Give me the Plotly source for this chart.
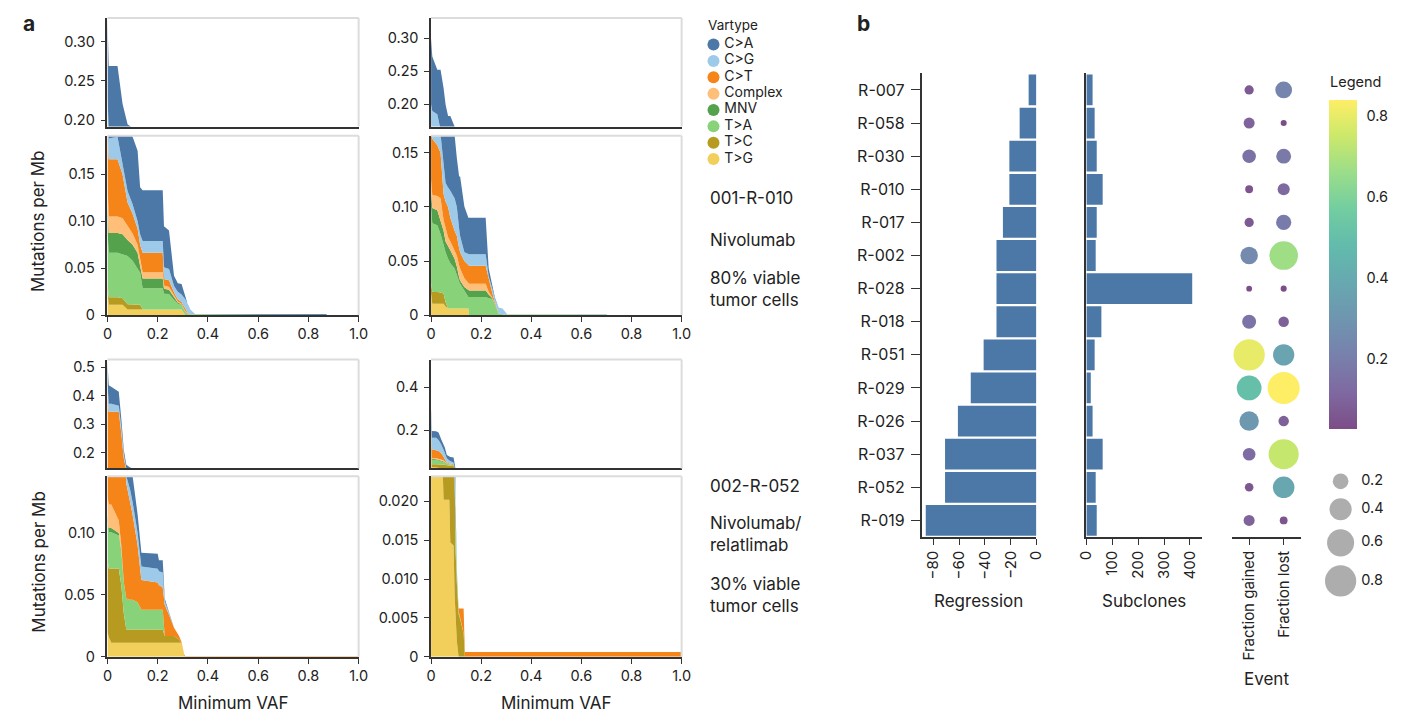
import numpy as np
import plotly.graph_objects as go
import plotly.colors as pc

W, H = 1407, 718
FONT = "Inter, 'Liberation Sans', sans-serif"
INK = "#222222"
AXIS = "#333333"
FRAME = "#dcdcdc"

# ---------------- data: panel a ----------------
VARTYPES = ["C>A", "C>G", "C>T", "Complex", "MNV", "T>A", "T>C", "T>G"]
VAR_COLORS = ["#4c78a8", "#9ecae9", "#f58518", "#ffbf79", "#54a24b", "#88d27a", "#b79a20", "#f2cf5b"]

VAF_TICKS = [0, 0.2, 0.4, 0.6, 0.8, 1.0]
VAF_TICKTEXT = ["0", "0.2", "0.4", "0.6", "0.8", "1.0"]

# stacked upper edge of each vartype layer (mutations per Mb), 001-R-010 left sample
TL_VAF = [0, .005, .04, .06, .08, .10, .12, .13, .14, .22, .225, .245, .265, .28, .295, .31, .32, .33, .35, .87, .875, 1.0]
TL_TG = [.025, .011, .011, .011, .006, .006, .006, .006, .006, .006, .006, .006, .006, .006, .006, 0, 0, 0, 0, 0, 0, 0]
TL_TC = [.035, .019, .019, .018, .0115, .0115, .0115, .011, .006, .006, .006, .006, .006, .006, .006, 0, 0, 0, 0, 0, 0, 0]
TL_TA = [.09, .0665, .0665, .065, .063, .058, .050, .045, .0287, .0287, .0228, .0225, .016, .012, .011, .002, .001, .001, .0008, .0008, 0, 0]
TL_MNV = [.12, .0875, .0875, .086, .080, .075, .066, .054, .039, .039, .028, .027, .019, .0135, .0115, .003, .001, .001, .0008, .0008, 0, 0]
TL_CX = [.14, .105, .105, .103, .095, .087, .075, .060, .0455, .0455, .0315, .030, .021, .0145, .012, .004, .0012, .001, .0008, .0008, 0, 0]
TL_CT = [.20, .166, .166, .150, .120, .108, .092, .075, .0665, .0665, .0385, .037, .024, .017, .014, .007, .002, .001, .0008, .0008, 0, 0]
TL_CG = [.23, .188, .190, .162, .132, .118, .100, .086, .079, .079, .051, .049, .031, .025, .022, .017, .011, .006, .0008, .0008, 0, 0]
TL_CA = [.33, .269, .269, .221, .195, .190, .175, .136, .133, .133, .0945, .090, .042, .034, .033, .018, .011, .006, .0008, .0008, 0, 0]

# 001-R-010 right sample
TR_VAF = [0, .005, .025, .038, .05, .058, .068, .077, .094, .103, .112, .116, .133, .149, .152, .218, .23, .245, .255, .27, .285, .305, .70, .705, 1.0]
TR_TG = [.02, .0106, .0106, .0106, .0106, .008, .006, .006, .006, .006, .006, .006, .006, .006, 0, 0, 0, 0, 0, 0, 0, 0, 0, 0, 0]
TR_TC = [.03, .0213, .0213, .021, .020, .012, .006, .006, .006, .006, .006, .006, .006, .006, 0, 0, 0, 0, 0, 0, 0, 0, 0, 0, 0]
TR_TA = [.10, .085, .083, .075, .065, .058, .052, .048, .043, .036, .031, .029, .022, .0167, .0167, .0167, .0155, .015, .0095, .0015, .0008, .0005, .0005, 0, 0]
TR_MNV = [.115, .099, .097, .088, .078, .068, .063, .060, .052, .045, .035, .032, .026, .0228, .0228, .0228, .019, .0155, .010, .0015, .0008, .0005, .0005, 0, 0]
TR_CX = [.125, .111, .110, .108, .088, .080, .072, .068, .060, .055, .046, .043, .034, .0289, .0289, .0289, .0215, .016, .0105, .0015, .0008, .0005, .0005, 0, 0]
TR_CT = [.17, .163, .157, .150, .112, .105, .100, .090, .078, .073, .062, .058, .050, .0456, .0456, .0456, .033, .020, .012, .0015, .0008, .0005, .0005, 0, 0]
TR_CG = [.20, .19, .185, .167, .14, .122, .118, .115, .108, .100, .080, .073, .058, .0563, .0563, .0563, .036, .024, .015, .007, .006, .0005, .0005, 0, 0]
TR_CA = [.30, .2725, .2525, .2525, .225, .200, .1825, .1825, .1665, .145, .128, .128, .1004, .090, .090, .090, .043, .027, .016, .007, .006, .0005, .0005, 0, 0]

# 002-R-052 left sample
BL_VAF = [0, .005, .015, .045, .055, .065, .075, .09, .10, .12, .135, .20, .205, .22, .228, .245, .265, .285, .295, .305, .31, 1.0]
BL_TG = [.02, .016, .0114, .0114, .0114, .0114, .0114, .0114, .0114, .0114, .0114, .0114, .0114, .0114, .0114, .0114, .0114, .0114, .0114, .001, 0, 0]
BL_TC = [.08, .0713, .0713, .0713, .058, .035, .022, .022, .022, .022, .022, .022, .022, .022, .0168, .0168, .0168, .014, .0114, .001, 0, 0]
BL_TA = [.11, .1005, .1005, .098, .085, .060, .047, .046, .046, .044, .038, .038, .038, .038, .0168, .0168, .0168, .014, .0114, .001, 0, 0]
BL_MNV = [.115, .104, .104, .100, .086, .060, .047, .046, .046, .044, .038, .038, .038, .038, .0168, .0168, .0168, .014, .0114, .001, 0, 0]
BL_CX = [.13, .123, .123, .110, .090, .060, .047, .046, .046, .044, .038, .038, .038, .038, .0168, .0168, .0168, .014, .0114, .001, 0, 0]
BL_CT = [.40, .344, .344, .344, .27, .18, .140, .125, .115, .090, .062, .060, .058, .056, .042, .034, .0234, .0168, .012, .002, .0005, .0005]
BL_CG = [.44, .372, .372, .365, .29, .195, .146, .135, .125, .100, .073, .071, .069, .068, .045, .035, .0234, .0168, .012, .002, .0005, .0005]
BL_CA = [.52, .437, .432, .414, .32, .21, .158, .148, .146, .115, .084, .0832, .078, .078, .047, .036, .0234, .0168, .012, .002, .0005, .0005]

# 002-R-052 right sample
BR_VAF = [0, .003, .02, .03, .04, .047, .05, .055, .063, .073, .077, .09, .094, .098, .103, .11, .115, .13, .135, 1.0]
BR_TG = [.10, .030, .028, .027, .025, .0235, .0202, .0202, .0202, .0202, .0147, .0143, .008, .004, .002, 0, 0, 0, 0, 0]
BR_TC = [.14, .043, .043, .043, .043, .043, .042, .040, .038, .037, .036, .035, .020, .0135, .0095, .0055, .005, .003, 0, 0]
BR_TA = [.16, .064, .062, .060, .058, .055, .053, .050, .045, .041, .040, .039, .021, .0145, .0105, .0058, .0052, .003, 0, 0]
BR_MNV = [.165, .068, .066, .064, .062, .058, .056, .052, .047, .042, .041, .040, .0215, .015, .011, .0058, .0052, .003, 0, 0]
BR_CX = [.17, .072, .070, .068, .066, .062, .060, .055, .048, .043, .042, .041, .0215, .015, .011, .0058, .0052, .003, 0, 0]
BR_CT = [.21, .112, .108, .104, .095, .085, .078, .066, .052, .046, .045, .044, .022, .0152, .011, .0062, .0062, .0062, .0006, .0006]
BR_CG = [.28, .166, .165, .155, .135, .120, .110, .095, .070, .060, .058, .050, .026, .0165, .0112, .0062, .0062, .0062, .0006, .0006]
BR_CA = [.30, .197, .196, .190, .160, .140, .130, .120, .0855, .077, .076, .074, .030, .018, .0112, .0062, .0062, .0062, .0006, .0006]

TL_UP_TICKS, TL_UP_TEXT = [0.20, 0.25, 0.30], ["0.20", "0.25", "0.30"]
TL_LO_TICKS, TL_LO_TEXT = [0, 0.05, 0.10, 0.15], ["0", "0.05", "0.10", "0.15"]
BL_UP_TICKS, BL_UP_TEXT = [0.2, 0.3, 0.4, 0.5], ["0.2", "0.3", "0.4", "0.5"]
BL_LO_TICKS, BL_LO_TEXT = [0, 0.05, 0.10], ["0", "0.05", "0.10"]
BR_UP_TICKS, BR_UP_TEXT = [0.2, 0.4], ["0.2", "0.4"]
BR_LO_TICKS, BR_LO_TEXT = [0, 0.005, 0.010, 0.015, 0.020], ["0", "0.005", "0.010", "0.015", "0.020"]

# ---------------- data: panel b ----------------
SAMPLES = ["R-007", "R-058", "R-030", "R-010", "R-017", "R-002", "R-028", "R-018",
           "R-051", "R-029", "R-026", "R-037", "R-052", "R-019"]
REGRESSION = [-6, -13, -21, -21, -26, -31, -31, -31, -41, -51, -61, -71, -71, -86]
SUBCLONES = [24, 32, 40, 63, 40, 36, 409, 58, 32, 17, 24, 63, 36, 40]
FRAC_GAINED = [0.07, 0.10, 0.15, 0.05, 0.07, 0.25, 0.027, 0.16, 0.80, 0.50, 0.31, 0.13, 0.06, 0.10]
FRAC_LOST = [0.23, 0.03, 0.18, 0.12, 0.19, 0.67, 0.03, 0.09, 0.37, 0.84, 0.09, 0.74, 0.38, 0.05]
EVENTS = ["Fraction gained", "Fraction lost"]
SIZE_LEGEND = [0.2, 0.4, 0.6, 0.8]
SIZE_LEGEND_TEXT = ["0.2", "0.4", "0.6", "0.8"]
REG_TICKS = [-80, -60, -40, -20, 0]
SUB_TICKS = [0, 100, 200, 300, 400]
CBAR_TICKS = [0.2, 0.4, 0.6, 0.8]

# ---------------- helpers ----------------
def xd(a, b):
    return [a / W, b / W]

def yd(top, bottom):
    return [1 - bottom / H, 1 - top / H]

def ref(kind, i):
    return kind if i == 1 else f"{kind}{i}"

def key(kind, i):
    return f"{kind}axis" if i == 1 else f"{kind}axis{i}"

COLOR_OF = dict(zip(VARTYPES, VAR_COLORS))
# opacity-0.7 viridis on white
def blend(hexcol, a=0.7):
    r, g, b = pc.hex_to_rgb(hexcol)
    return "rgb(%d,%d,%d)" % tuple(round(a * c + (1 - a) * 255) for c in (r, g, b))
VIR = pc.sequential.Viridis
CSCALE = [[i / (len(VIR) - 1), blend(c)] for i, c in enumerate(VIR)]

fig = go.Figure()
layout = {}
shapes = []
tickfont = dict(family=FONT, size=14.5, color=INK)
base = dict(showgrid=False, zeroline=False, showline=True, linecolor=AXIS, linewidth=1.5,
            ticks="outside", ticklen=5, tickwidth=1.2, tickcolor=AXIS, tickfont=tickfont,
            fixedrange=True)

panels = [
    dict(vaf=TL_VAF, tops={"T>G": TL_TG, "T>C": TL_TC, "T>A": TL_TA, "MNV": TL_MNV, "Complex": TL_CX,
                           "C>T": TL_CT, "C>G": TL_CG, "C>A": TL_CA},
         xdom=(90.7, 345.3), up=(9, 119), lo=(128.3, 310), uprng=[0.192, 0.33], lorng=[0, 0.191],
         upt=(TL_UP_TICKS, TL_UP_TEXT), lot=(TL_LO_TICKS, TL_LO_TEXT)),
    dict(vaf=TR_VAF, tops={"T>G": TR_TG, "T>C": TR_TC, "T>A": TR_TA, "MNV": TR_MNV, "Complex": TR_CX,
                           "C>T": TR_CT, "C>G": TR_CG, "C>A": TR_CA},
         xdom=(418.7, 672.7), up=(9, 119), lo=(128.3, 310), uprng=[0.1665, 0.331], lorng=[0, 0.1658],
         upt=(TL_UP_TICKS, TL_UP_TEXT), lot=(TL_LO_TICKS, TL_LO_TEXT)),
    dict(vaf=BL_VAF, tops={"T>G": BL_TG, "T>C": BL_TC, "T>A": BL_TA, "MNV": BL_MNV, "Complex": BL_CX,
                           "C>T": BL_CT, "C>G": BL_CG, "C>A": BL_CA},
         xdom=(90.7, 345.3), up=(355, 465.3), lo=(473.3, 656), uprng=[0.145, 0.527], lorng=[0, 0.1457],
         upt=(BL_UP_TICKS, BL_UP_TEXT), lot=(BL_LO_TICKS, BL_LO_TEXT)),
    dict(vaf=BR_VAF, tops={"T>G": BR_TG, "T>C": BR_TC, "T>A": BR_TA, "MNV": BR_MNV, "Complex": BR_CX,
                           "C>T": BR_CT, "C>G": BR_CG, "C>A": BR_CA},
         xdom=(418.7, 672.7), up=(355, 465.3), lo=(473.3, 656), uprng=[0.0232, 0.528], lorng=[0, 0.0232],
         upt=(BR_UP_TICKS, BR_UP_TEXT), lot=(BR_LO_TICKS, BR_LO_TEXT)),
]

stack_order = list(reversed(VARTYPES))
for p_i, p in enumerate(panels):
    iu, il = 2 * p_i + 1, 2 * p_i + 2
    for idx, part in ((iu, "up"), (il, "lo")):
        for k, vt in enumerate(stack_order):
            fig.add_trace(go.Scatter(
                x=p["vaf"], y=p["tops"][vt], mode="lines", line=dict(width=0),
                fill="tozeroy" if k == 0 else "tonexty", fillcolor=COLOR_OF[vt],
                xaxis=ref("x", idx), yaxis=ref("y", idx), showlegend=False, hoverinfo="skip"))
        is_lo = part == "lo"
        xa = dict(base, domain=xd(*p["xdom"]), range=[0, 1], anchor=ref("y", idx),
                  tickvals=VAF_TICKS, ticktext=VAF_TICKTEXT)
        if not is_lo:
            xa.update(ticks="", showticklabels=False)
        ya = dict(base, domain=yd(*p[part]), range=p["uprng"] if not is_lo else p["lorng"],
                  anchor=ref("x", idx), tickvals=p["upt" if not is_lo else "lot"][0],
                  ticktext=p["upt" if not is_lo else "lot"][1], ticklabelstandoff=3)
        layout[key("x", idx)] = xa
        layout[key("y", idx)] = ya
        for (x0, x1, y0, y1) in ((0, 1, 1, 1), (1, 1, 0, 1)):
            shapes.append(dict(type="line", xref=f"{ref('x', idx)} domain", yref=f"{ref('y', idx)} domain",
                               x0=x0, x1=x1, y0=y0, y1=y1, line=dict(color=FRAME, width=2), layer="above"))

# vartype legend as a small scatter subplot (9)
fig.add_trace(go.Scatter(x=[0] * len(VARTYPES), y=VARTYPES, mode="markers",
                         marker=dict(size=12, color=VAR_COLORS), xaxis="x9", yaxis="y9",
                         showlegend=False, hoverinfo="skip"))
fig.add_trace(go.Scatter(x=[1.1] * len(VARTYPES), y=VARTYPES, mode="text", text=VARTYPES,
                         textposition="middle right", textfont=dict(family=FONT, size=14, color=INK),
                         xaxis="x9", yaxis="y9", showlegend=False, hoverinfo="skip"))
layout["xaxis9"] = dict(domain=xd(690, 790), range=[-1.5, 8.5], visible=False, anchor="y9", fixedrange=True)
layout["yaxis9"] = dict(domain=yd(27.7, 160.3), type="category", categoryorder="array",
                        categoryarray=VARTYPES, range=[7.5, -0.5], visible=False, anchor="x9", fixedrange=True)

# ---------------- panel b ----------------
BAR = "#4c78a8"
ydom_b = yd(65.2, 534.7)
nS = len(SAMPLES)
catax = dict(type="category", categoryorder="array", categoryarray=SAMPLES, range=[nS - 0.5, -0.5],
             domain=ydom_b, showgrid=False, zeroline=False, fixedrange=True)

fig.add_trace(go.Bar(x=REGRESSION, y=SAMPLES, orientation="h", marker=dict(color=BAR, line=dict(width=0)),
                     xaxis="x10", yaxis="y10", showlegend=False, hoverinfo="skip"))
layout["xaxis10"] = dict(base, domain=xd(916, 1032.3), range=[-89.2, 0], anchor="y10",
                         tickvals=REG_TICKS, tickangle=-90, ticklen=6,
                         tickfont=dict(family=FONT, size=15, color=INK))
layout["yaxis10"] = dict(catax, anchor="x10", showline=True, linecolor=AXIS, linewidth=1.5,
                         ticks="outside", ticklen=9, tickwidth=1.2, tickcolor=AXIS,
                         tickfont=dict(family=FONT, size=16, color=INK), ticklabelstandoff=3)

fig.add_trace(go.Bar(x=SUBCLONES, y=SAMPLES, orientation="h", marker=dict(color=BAR, line=dict(width=0)),
                     xaxis="x11", yaxis="y11", showlegend=False, hoverinfo="skip"))
layout["xaxis11"] = dict(base, domain=xd(1083, 1200), range=[0, 446], anchor="y11",
                         tickvals=SUB_TICKS, tickangle=-90, ticklen=6,
                         tickfont=dict(family=FONT, size=15, color=INK))
layout["yaxis11"] = dict(catax, anchor="x11", showline=True, linecolor=AXIS, linewidth=1.5,
                         ticks="", showticklabels=False)

K = 35.0  # circle diameter (px) = K * sqrt(fraction)
dot_vals = FRAC_GAINED + FRAC_LOST
fig.add_trace(go.Scatter(
    x=[EVENTS[0]] * nS + [EVENTS[1]] * nS, y=SAMPLES + SAMPLES, mode="markers",
    marker=dict(size=K * np.sqrt(np.array(dot_vals)), color=dot_vals, colorscale=CSCALE,
                cmin=min(dot_vals), cmax=max(dot_vals), line=dict(width=0), opacity=1,
                showscale=True,
                colorbar=dict(x=1329 / W, xanchor="left", xpad=0, y=1 - 92 / H, yanchor="top", ypad=0,
                              len=333 / H, lenmode="fraction", thickness=28, thicknessmode="pixels",
                              outlinewidth=0, tickvals=CBAR_TICKS, ticks="outside", ticklen=7,
                              tickcolor="rgba(0,0,0,0)", tickfont=dict(family=FONT, size=14.5, color=INK))),
    xaxis="x12", yaxis="y12", showlegend=False, hoverinfo="skip"))
layout["xaxis12"] = dict(base, type="category", categoryorder="array", categoryarray=EVENTS,
                         range=[-0.5, 1.5], domain=xd(1230.5, 1300.5), anchor="y12", tickangle=-90,
                         ticklen=6, tickfont=dict(family=FONT, size=15, color=INK))
layout["yaxis12"] = dict(catax, anchor="x12", visible=False)

# size legend (13): rows stacked by symbol size like a symbol legend, y axis in pixels
sym_d = K * np.sqrt(np.array(SIZE_LEGEND))
row_y = [478.3]
for i in range(1, len(sym_d)):
    row_y.append(row_y[-1] + (sym_d[i - 1] + sym_d[i]) / 2 + 9.4)
fig.add_trace(go.Scatter(x=[0] * 4, y=row_y, mode="markers",
                         marker=dict(size=sym_d, color="#8a8a8a", line=dict(width=0)),
                         xaxis="x13", yaxis="y13", showlegend=False, hoverinfo="skip"))
fig.add_trace(go.Scatter(x=[1.05] * 4, y=row_y, mode="text", text=SIZE_LEGEND_TEXT,
                         textposition="middle right", textfont=dict(family=FONT, size=14.5, color=INK),
                         xaxis="x13", yaxis="y13", showlegend=False, hoverinfo="skip"))
layout["xaxis13"] = dict(domain=xd(1320.7, 1400.7), range=[-1, 3], visible=False, anchor="y13", fixedrange=True)
layout["yaxis13"] = dict(domain=yd(440, 620), range=[620, 440], visible=False, anchor="x13", fixedrange=True)

# ---------------- annotations ----------------
def ann(text, x, y, size=17, xanchor="center", angle=0, bold=False):
    return dict(text=f"<b>{text}</b>" if bold else text, x=x / W, y=1 - y / H, xref="paper", yref="paper",
                xanchor=xanchor, yanchor="middle", showarrow=False, textangle=angle, align="left",
                font=dict(family=FONT, size=size, color=INK))

annotations = [
    ann("a", 11, 15, 21, bold=True),
    ann("b", 857, 15, 21, bold=True),
    ann("Vartype", 697, 16, 13.5, xanchor="left"),
    ann("001-R-010", 699, 191, xanchor="left"),
    ann("Nivolumab", 699, 234, xanchor="left"),
    ann("80% viable<br>tumor cells", 699, 283.5, xanchor="left"),
    ann("002-R-052", 699, 483, xanchor="left"),
    ann("Nivolumab/<br>relatlimab", 699, 531.5, xanchor="left"),
    ann("30% viable<br>tumor cells", 699, 593.5, xanchor="left"),
    ann("Mutations per Mb", 21, 215, 17, angle=-90),
    ann("Mutations per Mb", 21, 560, 17, angle=-90),
    ann("Minimum VAF", 218, 703, 17),
    ann("Minimum VAF", 546, 703, 17),
    ann("Regression", 974, 600, 17),
    ann("Subclones", 1141, 600, 17),
    ann("Event", 1266, 678, 17),
    ann("Legend", 1328, 74, 14.5, xanchor="left"),
]

fig.update_layout(
    width=W, height=H, autosize=False, margin=dict(l=0, r=0, t=0, b=0),
    paper_bgcolor="white", plot_bgcolor="white", showlegend=False, bargap=0.07,
    font=dict(family=FONT, color=INK), shapes=shapes, annotations=annotations, **layout)

fig.write_html("out.html")
